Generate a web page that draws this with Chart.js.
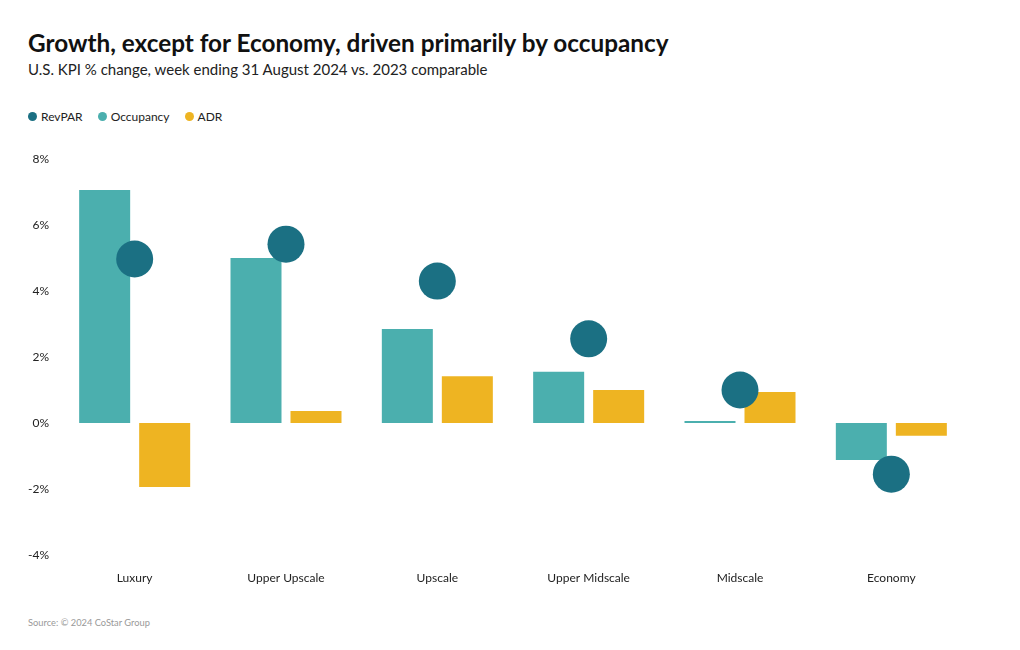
<!DOCTYPE html>
<html>
<head>
<meta charset="utf-8">
<script src="https://cdn.jsdelivr.net/npm/chart.js@4.4.1/dist/chart.umd.min.js"></script>
<style>
  body { margin: 0; background: #fff; font-family: Lato, sans-serif; }
  #wrap { position: relative; width: 1020px; height: 650px; overflow: hidden; }
  h1 { position: absolute; left: 28px; top: 28px; margin: 0; font-size: 24.3px; font-weight: 700; color: #111; }
  .sub { position: absolute; left: 28px; top: 60px; font-size: 15px; color: #222; }
  .legend { position: absolute; left: 28px; top: 109px; font-size: 12px; color: #222; display: flex; gap: 15px; }
  .legend span { display: flex; align-items: center; }
  .legend i { width: 9px; height: 9px; border-radius: 50%; margin-right: 4px; display: inline-block; }
  .src { position: absolute; left: 28px; top: 617px; font-size: 9.3px; color: #999; }
  #chartBox { position: absolute; left: 0; top: 140px; width: 1020px; height: 460px; }
</style>
</head>
<body>
<div id="wrap">
  <h1>Growth, except for Economy, driven primarily by occupancy</h1>
  <div class="sub">U.S. KPI % change, week ending 31 August 2024 vs. 2023 comparable</div>
  <div class="legend">
    <span><i style="background:#1b7083"></i>RevPAR</span>
    <span><i style="background:#4bafae"></i>Occupancy</span>
    <span><i style="background:#eeb422"></i>ADR</span>
  </div>
  <div id="chartBox"><canvas id="kpiChart"></canvas></div>
  <div class="src">Source: © 2024 CoStar Group</div>
</div>
<script>
// Chart data
const segments = ['Luxury', 'Upper Upscale', 'Upscale', 'Upper Midscale', 'Midscale', 'Economy'];
const revpar = [4.97, 5.42, 4.30, 2.55, 1.00, -1.55];
const occupancy = [7.06, 5.00, 2.85, 1.55, 0.06, -1.12];
const adr = [-1.94, 0.36, 1.42, 1.00, 0.94, -0.39];

const ctx = document.getElementById('kpiChart');
new Chart(ctx, {
    type: 'bar',
    data: {
        labels: segments,
        datasets: [{
            type: 'line',
            label: 'RevPAR',
            data: revpar,
            showLine: false,
            pointRadius: 18.5,
            pointHoverRadius: 18.5,
            pointBackgroundColor: '#1b7083',
            pointBorderWidth: 0,
            order: 0
        }, {
            label: 'Occupancy',
            data: occupancy,
            backgroundColor: '#4bafae',
            categoryPercentage: 0.793,
            barPercentage: 0.85,
            order: 1
        }, {
            label: 'ADR',
            data: adr,
            backgroundColor: '#eeb422',
            categoryPercentage: 0.793,
            barPercentage: 0.85,
            order: 2
        }]
    },
    options: {
        responsive: true,
        maintainAspectRatio: false,
        animation: false,
        layout: { padding: { top: 19, right: 53, left: 0, bottom: 0 } },
        plugins: {
            legend: { display: false },
            tooltip: { enabled: false }
        },
        scales: {
            x: {
                grid: { display: false, drawTicks: false },
                border: { display: false },
                ticks: { color: '#222', font: { family: 'Lato', size: 12 }, padding: 16 },
                afterFit: s => { s.height = 45; }
            },
            y: {
                min: -4,
                max: 8,
                grid: { display: false, drawTicks: false },
                border: { display: false },
                ticks: {
                    stepSize: 2,
                    color: '#222',
                    padding: 10,
                    font: { family: 'Lato', size: 12 },
                    callback: v => v + '%'
                },
                afterFit: s => { s.width = 59; }
            }
        }
    }
});
</script>
</body>
</html>
